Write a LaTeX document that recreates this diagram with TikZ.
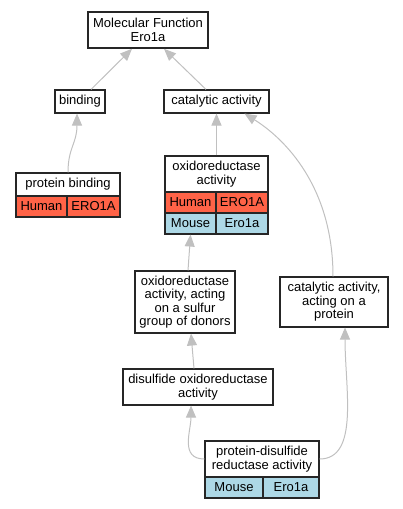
\documentclass[tikz,border=0pt]{standalone}
\usepackage{fontspec}
\setmainfont{Liberation Sans}
\usetikzlibrary{arrows.meta}
\definecolor{humanred}{HTML}{FF6347}
\definecolor{mouseblue}{HTML}{ADD8E6}
\definecolor{edgegray}{HTML}{C0C0C0}

\begin{document}
\begin{tikzpicture}[x=1pt, y=-1pt,
    term/.style={draw=black!85, fill=white, line width=1.1pt, inner sep=0pt, align=center,
        font=\fontsize{13}{13.5}\selectfont},
    cell/.style={term, minimum height=21pt},
    edge/.style={draw=edgegray, line width=1pt, -{Triangle[length=12pt,width=10pt]}}]
\useasboundingbox (0,0) rectangle (403,509);

% Root
\node[term, line width=1.6pt, minimum width=120pt, minimum height=36pt] (mf) at (148,30) {Molecular Function\\Ero1a};

% Second level
\node[term, minimum width=50pt, minimum height=23pt] (bind) at (80,101.5) {binding};
\node[term, minimum width=105pt, minimum height=23pt] (cat) at (216.5,101.5) {catalytic activity};

% protein binding with its gene row
\node[term, minimum width=104pt, minimum height=23pt] (pb) at (68,184.5) {protein binding};
\node[cell, fill=humanred, minimum width=51pt] (pbh) at (41.5,206.5) {Human};
\node[cell, fill=humanred, minimum width=53pt] (pbg) at (93.5,206.5) {ERO1A};

% oxidoreductase activity with its gene rows
\node[term, minimum width=103pt, minimum height=36pt] (ox) at (216.5,174) {oxidoreductase\\activity};
\node[cell, fill=humanred, minimum width=51pt] (oxh) at (190.5,202.5) {Human};
\node[cell, fill=humanred, minimum width=52pt] (oxhg) at (242,202.5) {ERO1A};
\node[cell, fill=mouseblue, minimum width=51pt] (oxm) at (190.5,223.5) {Mouse};
\node[cell, fill=mouseblue, minimum width=52pt] (oxmg) at (242,223.5) {Ero1a};

% Lower terms
\node[term, minimum width=100pt, minimum height=62pt] (sulf) at (185,302) {oxidoreductase\\activity, acting\\on a sulfur\\group of donors};
\node[term, minimum width=108pt, minimum height=50pt] (catp) at (334,302) {catalytic activity,\\acting on a\\protein};
\node[term, minimum width=150pt, minimum height=36pt] (dis) at (198,387) {disulfide oxidoreductase\\activity};

% protein-disulfide reductase activity with its gene row
\node[term, minimum width=114pt, minimum height=36pt] (pd) at (262,459) {protein-disulfide\\reductase activity};
\node[cell, fill=mouseblue, minimum width=58pt] (pdm) at (234,487.5) {Mouse};
\node[cell, fill=mouseblue, minimum width=56pt] (pdg) at (291,487.5) {Ero1a};

% Edges
\draw[edge] ([xshift=11pt]bind.north) -- ([xshift=-16pt]mf.south);
\draw[edge] ([xshift=-10.5pt]cat.north) -- ([xshift=16pt]mf.south);
\draw[edge] (pb.north) .. controls +(0,-25) and +(0,30) .. ([xshift=-3pt]bind.south);
\draw[edge] (ox.north) -- (cat.south);
\draw[edge] ([xshift=-1pt]catp.north) .. controls +(0,-90) and +(40,25) .. ([xshift=28pt]cat.south);
\draw[edge] ([xshift=3pt]sulf.north) -- (oxm.south);
\draw[edge] ([xshift=-4pt]dis.north) -- ([xshift=6pt]sulf.south);
\draw[edge] (pd.west) .. controls +(-25,0) and +(0,25) .. ([xshift=-7pt]dis.south);
\draw[edge] (pd.east) .. controls +(40,0) and +(0,60) .. ([xshift=11pt]catp.south);

\end{tikzpicture}
\end{document}
